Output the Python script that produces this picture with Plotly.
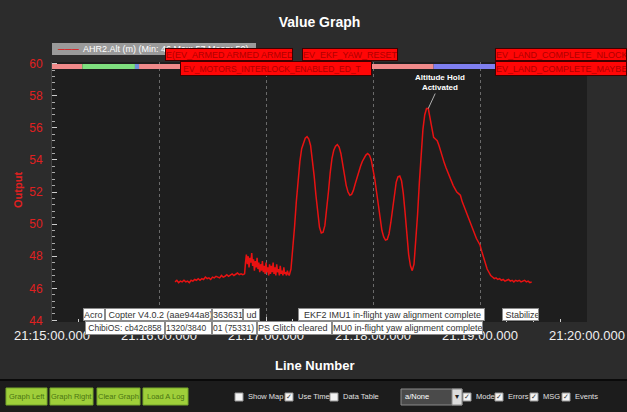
import plotly.graph_objects as go
import pandas as pd

# ---------------- data (seconds after 21:15:00, altitude in m) ----------------
t_sec = [69, 70, 71, 72, 73, 74, 75, 76, 77, 78, 79, 80, 81, 82, 83, 84, 85, 86, 87, 88,
         89, 90, 91, 92, 93, 94, 95, 96, 97, 98, 99, 100, 101, 102, 103, 104, 105, 106, 107,
         108, 108.5, 109, 109.5, 110, 110.5, 111, 111.5, 112, 112.5, 113, 113.5, 114, 114.5,
         115, 115.5, 116, 116.5, 117, 117.5, 118, 118.5, 119, 119.5, 120, 120.5, 121, 121.5,
         122, 122.5, 123, 123.5, 124, 124.5, 125, 125.5, 126, 126.5, 127, 127.5, 128, 128.5,
         129, 129.5, 130, 130.5, 131, 131.5, 132, 132.5, 133,
         134, 135, 136, 137, 138, 139, 140, 141, 142, 143, 144, 145, 146, 147, 148, 149, 150,
         151, 152, 153, 154, 155, 156, 157, 158, 159, 160, 161, 162, 163, 164, 165, 166, 167,
         168, 169, 170, 171, 172, 173, 174, 175, 176, 177, 178, 179, 180, 181, 182, 183, 184,
         185, 186, 187, 188, 189, 190, 191, 192, 193, 194, 195, 196, 197, 198, 199, 200, 201,
         202, 203, 204, 205, 206, 207, 208, 209, 210, 211, 212, 213, 214, 215, 216, 217, 218,
         219, 220, 221, 222, 223, 224, 225, 226, 227, 228, 229, 230, 231, 232, 233, 234, 235,
         236, 237, 238, 239, 240, 241, 242, 243, 244, 245, 246, 247, 248, 249, 250, 251, 252,
         253, 254, 255, 256, 257, 258, 259, 260, 261, 262, 263, 264, 265, 266, 267, 268, 269, 270]
alt = [46.4, 46.5, 46.35, 46.45, 46.4, 46.5, 46.4, 46.45, 46.35, 46.5, 46.45, 46.55, 46.5, 46.6,
       46.5, 46.6, 46.55, 46.7, 46.6, 46.65, 46.55, 46.7, 46.65, 46.75, 46.7, 46.65, 46.8, 46.7,
       46.75, 46.85, 46.75, 46.8, 46.9, 46.8, 46.85, 46.95, 46.85, 46.9, 46.85,
       46.9, 47.6, 48.1, 47.5, 48.0, 47.3, 47.9, 47.6, 48.2, 47.4, 47.8, 47.1, 47.7, 47.3,
       47.9, 47.2, 47.6, 47.0, 47.5, 47.1, 47.7, 47.0, 47.4, 46.9, 47.6, 47.0, 47.3, 46.8,
       47.5, 46.9, 47.4, 47.0, 47.6, 46.9, 47.3, 46.8, 47.5, 47.0, 47.2, 46.8, 47.4, 46.9,
       47.1, 46.8, 47.3, 46.9, 47.0, 46.8, 47.1, 46.9, 46.8,
       47.2, 48.3, 49.8, 51.4, 52.8, 53.9, 54.7, 55.1, 55.35, 55.45, 55.3, 54.9, 54.1, 53.0,
       51.8, 50.6, 49.8, 49.45, 49.5, 49.9, 50.8, 52.0, 53.2, 54.1, 54.6, 54.85, 54.95, 54.8,
       54.4, 53.7, 53.0, 52.4, 52.0, 51.8, 51.85, 52.1, 52.5, 52.9, 53.3, 53.6, 53.9, 54.1,
       54.3, 54.4, 54.3, 54.0, 53.5, 52.8, 52.0, 51.1, 50.3, 49.6, 49.2, 49.0, 49.05, 49.4,
       50.1, 51.0, 51.9, 52.6, 52.95, 53.0, 52.7, 51.9, 50.7, 49.3, 48.1, 47.4, 47.1, 47.5,
       48.8, 50.6, 52.6, 54.4, 55.9, 56.8, 57.2, 57.2, 56.6, 55.9, 55.4, 55.3, 55.2, 54.9,
       54.5, 54.1, 53.8, 53.5, 53.2, 53.0, 52.7, 52.4, 52.2, 52.0, 51.9, 51.8, 51.4, 51.1,
       50.8, 50.5, 50.2, 49.9, 49.6, 49.3, 49.1, 48.9, 48.7, 48.3, 47.9, 47.5, 47.2, 47.0,
       46.8, 46.7, 46.6, 46.65, 46.55, 46.6, 46.5, 46.55, 46.45, 46.5, 46.55, 46.45, 46.5,
       46.4, 46.5, 46.45, 46.5, 46.4, 46.45, 46.5, 46.4, 46.45, 46.35, 46.4]

# flight-mode strip: (start s, end s, colour)
mode_start = [0, 17, 46.5, 48.8, 214]
mode_end = [17, 46.5, 48.8, 214, 270]
mode_color = ["#f08a8a", "#7fe07f", "#6f8fd8", "#f08a8a", "#7f7ff0"]

peak_sec, peak_val = 211, 57.2

x_ticks_sec = [0, 60, 120, 180, 240, 300]
y_ticks = [44, 46, 48, 50, 52, 54, 56, 58, 60]

BASE = pd.Timestamp("2020-06-01 21:15:00")


def T(s):
    return BASE + pd.Timedelta(seconds=s)


FONT = "Liberation Sans, Arial, sans-serif"
W, H = 627, 412
L, R, TOP, BOT = 52, 587, 62, 322


def fx(px):
    return (px - L) / (R - L)


def fy(py):
    return (BOT - py) / (BOT - TOP)


fig = go.Figure()
fig.add_trace(go.Scatter(x=[T(s) for s in t_sec], y=alt, mode="lines",
                         line=dict(color="#e81212", width=1.5), showlegend=False,
                         hoverinfo="skip"))

shapes = []
annotations = []

# mode strip
for s0, s1, c in zip(mode_start, mode_end, mode_color):
    shapes.append(dict(type="rect", xref="x", yref="paper", x0=T(s0), x1=T(s1),
                       y0=fy(69), y1=fy(64), fillcolor=c, line=dict(width=0), layer="above"))


def box(x0, x1, y0, y1, text, bg, fc, size, border=None, family=FONT):
    annotations.append(dict(
        xref="paper", yref="paper", x=fx(x0), y=fy((y0 + y1) / 2),
        xanchor="left", yanchor="middle", text=text,
        showarrow=False, bgcolor=bg, bordercolor=border or bg, borderwidth=1,
        borderpad=0, width=max(x1 - x0 - 2, 4), height=max(y1 - y0 - 2, 4), align="left",
        font=dict(size=size, color=fc, family=family)))


def label(px, py, text, size, color, xanchor="center", family=FONT, angle=0):
    annotations.append(dict(xref="paper", yref="paper", x=fx(px), y=fy(py),
                            xanchor=xanchor, yanchor="middle", text=text, showarrow=False,
                            borderpad=0, textangle=angle,
                            font=dict(size=size, color=color, family=family)))


# legend box
box(52, 256, 43, 55, "", "#9a9a9a", "#ffffff", 9)
label(57, 48.5, "<b>———</b>", 7, "#e01010", xanchor="left")
label(82, 49, "AHR2.Alt (m) (Min: 46 Max: 57 Mean: 50)", 9, "#ffffff", xanchor="left")

# red event boxes
RED, RTXT, RB = "#ff0606", "#b00000", "#400000"
box(165, 293, 48, 61, "E(EV_ARMED ARMED ARMED", RED, RTXT, 9, border=RB)
box(302, 398, 48, 61, "EV_EKF_YAW_RESET", RED, RTXT, 9, border=RB)
box(495, 627, 48, 61, "EV_LAND_COMPLETE_NLOCK", RED, RTXT, 9, border=RB)
box(180, 372, 61, 76, " EV_MOTORS_INTERLOCK_ENABLED_ED_T", RED, RTXT, 8.5, border=RB)
box(495, 627, 61, 76, "EV_LAND_COMPLETE_MAYBE", RED, RTXT, 9, border=RB)

# message boxes
WB, WT, WBR = "#ffffff", "#333333", "#8a8a8a"
box(83, 105, 308, 321, "Acro", WB, WT, 9, border=WBR)
box(105, 212, 308, 321, " Copter V4.0.2 (aae944a8)", WB, WT, 9, border=WBR)
box(212, 243, 308, 321, "363631", WB, WT, 9, border=WBR)
box(243, 260, 308, 321, " ud", WB, WT, 9, border=WBR)
box(298, 485, 308, 321, "  EKF2 IMU1 in-flight yaw alignment complete", WB, WT, 9, border=WBR)
box(502, 539, 308, 321, " Stabilize", WB, WT, 9, border=WBR)
box(85, 165, 321, 335, " ChibiOS: cb42c858", WB, WT, 8.5, border=WBR)
box(165, 212, 321, 335, "1320/3840", WB, WT, 8.5, border=WBR)
box(212, 257, 321, 335, "01 (75331)", WB, WT, 8.5, border=WBR)
box(257, 332, 321, 335, "PS Glitch cleared", WB, WT, 9, border=WBR)
box(332, 483, 321, 335, "MU0 in-flight yaw alignment complete", WB, WT, 9, border=WBR)

# altitude hold annotation
annotations.append(dict(x=T(peak_sec), y=peak_val, xref="x", yref="y",
                        text="<b>Altitude Hold<br>Activated</b>", showarrow=True,
                        arrowhead=0, arrowwidth=1, arrowcolor="#b0b0b0", ax=12, ay=-26,
                        font=dict(size=8, color="#ffffff", family=FONT)))

# axis titles
label(18, 190, "<b>Output</b>", 11, "#e02020", angle=-90)
label(314, 365, "<b>Line Number</b>", 13, "#ffffff")

# ---------------- bottom toolbar ----------------
shapes.append(dict(type="rect", xref="paper", yref="paper", x0=fx(0), x1=fx(W),
                   y0=fy(H + 2), y1=fy(380), fillcolor="#1c1c1c", line=dict(width=0)))
shapes.append(dict(type="line", xref="paper", yref="paper", x0=fx(0), x1=fx(W),
                   y0=fy(380), y1=fy(380), line=dict(color="#0a0a0a", width=2)))

buttons = [("Graph Left", 6, 47), ("Graph Right", 50, 93), ("Clear Graph", 97, 140),
           ("Load A Log", 143, 188)]
for text, b0, b1 in buttons:
    shapes.append(dict(type="rect", xref="paper", yref="paper", x0=fx(b0), x1=fx(b1),
                       y0=fy(405), y1=fy(388), fillcolor="#9fcf3a",
                       line=dict(color="#76a82a", width=1)))
    label((b0 + b1) / 2, 396.5, text, 7.5, "#4a7512")

checks = [("Show Map", 239, False), ("Use Time", 289, True), ("Data Table", 334, False),
          ("Mode", 467, True), ("Errors", 499, True), ("MSG", 534, True), ("Events", 566, True)]
for text, cx, on in checks:
    shapes.append(dict(type="rect", xref="paper", yref="paper", x0=fx(cx - 4), x1=fx(cx + 4),
                       y0=fy(401), y1=fy(393), fillcolor="#f4f4f4",
                       line=dict(color="#999999", width=1)))
    if on:
        label(cx, 397, "✓", 7, "#333333", family="DejaVu Sans")
    label(cx + 8, 397, text, 7.5, "#e0e0e0", xanchor="left")

# dropdown
shapes.append(dict(type="rect", xref="paper", yref="paper", x0=fx(401), x1=fx(462),
                   y0=fy(405), y1=fy(389), fillcolor="#4a4a4a",
                   line=dict(color="#8a8a8a", width=1)))
shapes.append(dict(type="rect", xref="paper", yref="paper", x0=fx(452), x1=fx(462),
                   y0=fy(405), y1=fy(389), fillcolor="#dcdcdc",
                   line=dict(color="#8a8a8a", width=1)))
label(404, 397, "a/None", 7.5, "#ffffff", xanchor="left")
label(457, 397, "▾", 8, "#222222", family="DejaVu Sans")

fig.update_layout(
    template="none",
    width=W, height=H,
    margin=dict(l=L, r=W - R, t=TOP, b=H - BOT, pad=0, autoexpand=False),
    paper_bgcolor="#2c2c2c", plot_bgcolor="#1e1e1e",
    title=dict(text="<b>Value Graph</b>", x=0.5, xref="paper", y=1 - 22 / H, yanchor="middle",
               font=dict(size=14, color="#ffffff", family=FONT)),
    shapes=shapes, annotations=annotations, showlegend=False,
    xaxis=dict(type="date", range=[T(0), T(300)], automargin=False,
               tickvals=[T(s) for s in x_ticks_sec], tickformat="%H:%M:%S.%L",
               tickfont=dict(size=13, color="#f0f0f0", family=FONT),
               showgrid=True, gridcolor="#6a6a6a", griddash="dot", gridwidth=1,
               ticks="inside", ticklen=5, tickcolor="#cccccc", ticklabelstandoff=4,
               minor=dict(dtick=15000, ticks="inside", ticklen=3, tickcolor="#cccccc",
                          showgrid=False),
               showline=False, zeroline=False, fixedrange=True),
    yaxis=dict(range=[43.9, 60.1], tickvals=y_ticks, automargin=False,
               tickfont=dict(size=12, color="#e02020", family=FONT),
               showgrid=False, zeroline=False, ticks="inside", ticklen=5,
               tickcolor="#cccccc", ticklabelstandoff=6,
               minor=dict(dtick=0.4, ticks="inside", ticklen=3, tickcolor="#aaaaaa"),
               showline=True, linecolor="#444444", fixedrange=True),
)

fig.write_html("out.html", config={"displayModeBar": False},
               post_script="document.body.style.margin='0px';"
                           "document.body.style.overflow='hidden';")
